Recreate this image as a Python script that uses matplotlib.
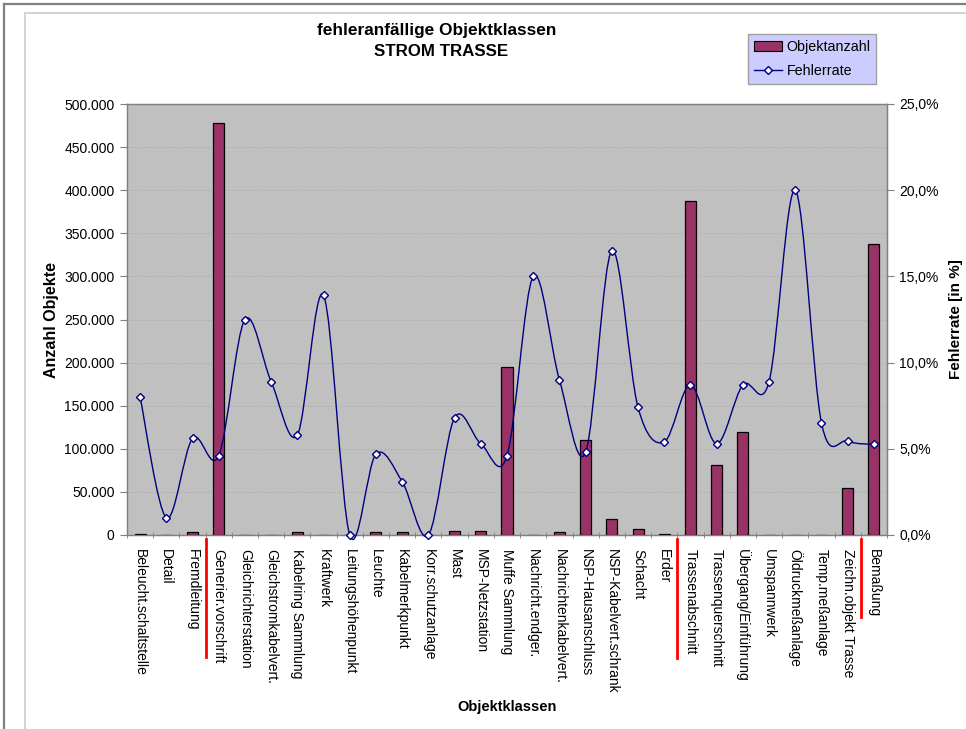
import matplotlib
matplotlib.use("Agg")
import matplotlib.pyplot as plt
from matplotlib.path import Path
from matplotlib.patches import PathPatch
from matplotlib.lines import Line2D
from matplotlib.ticker import FuncFormatter, MultipleLocator, FixedLocator
import numpy as np

plt.rcParams['font.family'] = ['Liberation Sans', 'DejaVu Sans']

categories = ["Beleucht.schaltstelle", "Detail", "Fremdleitung", "Generier.vorschrift",
              "Gleichrichterstation", "Gleichstromkabelvert.", "Kabelring Sammlung", "Kraftwerk",
              "Leitungshöhenpunkt", "Leuchte", "Kabelmerkpunkt", "Korr.schutzanlage", "Mast",
              "MSP-Netzstation", "Muffe Sammlung", "Nachricht.endger.", "Nachrichtenkabelvert.",
              "NSP-Hausanschluss", "NSP-Kabelvert.schrank", "Schacht", "Erder", "Trassenabschnitt",
              "Trassenquerschnitt", "Übergang/Einführung", "Umspannwerk", "Öldruckmeßanlage",
              "Temp.meßanlage", "Zeichn.objekt Trasse", "Bemaßung"]

objektanzahl = [1500, 0, 3000, 478000, 0, 0, 4000, 0, 0, 4000, 3000, 0, 5000, 5000, 194500,
                0, 4000, 110000, 18200, 7300, 1000, 387800, 80800, 119500, 0, 0, 0, 54900, 337600]

fehlerrate = [8.0, 1.0, 5.6, 4.6, 12.5, 8.9, 5.8, 13.9, 0.0, 4.7, 3.1, 0.0, 6.8, 5.3, 4.6,
              15.0, 9.0, 4.8, 16.5, 7.4, 5.4, 8.7, 5.3, 8.7, 8.9, 20.0, 6.5, 5.45, 5.25]

separator_positions = [2.5, 20.5, 27.5]
separator_lengths = [0.283, 0.285, 0.190]

W, H = 966, 729
fig = plt.figure(figsize=(W / 100, H / 100), dpi=100)
fig.patch.set_facecolor('white')

# frame lines
fig.add_artist(Line2D([3.5 / W, 3.5 / W], [0, 1 - 3.5 / H], transform=fig.transFigure, color='#808080', lw=1.6))
fig.add_artist(Line2D([3.5 / W, 1], [1 - 3.5 / H, 1 - 3.5 / H], transform=fig.transFigure, color='#808080', lw=1.6))
fig.add_artist(Line2D([25 / W, 25 / W], [0, 1 - 13 / H], transform=fig.transFigure, color='#d4d4d4', lw=1.5))
fig.add_artist(Line2D([25 / W, 1], [1 - 13 / H, 1 - 13 / H], transform=fig.transFigure, color='#d4d4d4', lw=1.5))

left, right, top, bottom = 127, 887, 104, 535
ax = fig.add_axes([left / W, 1 - bottom / H, (right - left) / W, (bottom - top) / H])
ax.set_facecolor('#c0c0c0')
n = len(categories)
x = np.arange(n)

ax.bar(x, objektanzahl, width=0.42, color='#993366', edgecolor='black', linewidth=0.9, zorder=3,
       label='Objektanzahl')
ax.set_xlim(-0.5, n - 0.5)
ax.set_ylim(0, 500000)
ax.yaxis.set_major_locator(MultipleLocator(50000))
ax.yaxis.set_major_formatter(FuncFormatter(lambda v, p: f"{int(v):,}".replace(",", ".")))
ax.grid(axis='y', color='#ababab', lw=0.6, linestyle=(0, (2, 2)), zorder=1)
ax.set_axisbelow(True)

ax.xaxis.set_major_locator(FixedLocator(x))
ax.set_xticklabels(categories, rotation=-90, fontsize=10, va='top', ha='center')
ax.xaxis.set_minor_locator(FixedLocator(np.arange(-0.5, n, 1.0)))
ax.tick_params(axis='x', which='major', length=0, pad=10)
ax.tick_params(axis='x', which='minor', length=5, color='#808080', direction='inout')
ax.tick_params(axis='y', which='major', length=5, color='#808080', labelsize=10, pad=4)
for s in ax.spines.values():
    s.set_color('#808080')
    s.set_linewidth(1.0)

ax.set_ylabel('Anzahl Objekte', fontsize=11.5, fontweight='bold', labelpad=4)
ax.set_xlabel('Objektklassen', fontsize=10.5, fontweight='bold', labelpad=5)

# twin axis for error rate
ax2 = ax.twinx()
ax2.set_ylim(0, 25)
ax2.yaxis.set_major_locator(MultipleLocator(5))
ax2.yaxis.set_major_formatter(FuncFormatter(lambda v, p: f"{v:.1f}%".replace(".", ",")))
ax2.tick_params(axis='y', length=5, color='#808080', labelsize=10, pad=4)
for s in ax2.spines.values():
    s.set_color('#808080')
ax2.set_ylabel('Fehlerrate [in %]', fontsize=11, fontweight='bold', labelpad=7)

# smoothed line (Catmull-Rom style Bezier like Excel)
pts = np.column_stack([x, fehlerrate]).astype(float)
ext = np.vstack([pts[0], pts, pts[-1]])
verts = [tuple(pts[0])]
codes = [Path.MOVETO]
for i in range(1, len(ext) - 2):
    p0, p1, p2, p3 = ext[i - 1], ext[i], ext[i + 1], ext[i + 2]
    c1 = p1 + (p2 - p0) / 6.0
    c2 = p2 - (p3 - p1) / 6.0
    verts += [tuple(c1), tuple(c2), tuple(p2)]
    codes += [Path.CURVE4] * 3
patch = PathPatch(Path(verts, codes), facecolor='none', edgecolor='#000080', lw=1.0, zorder=4, clip_on=False)
ax2.add_patch(patch)
ax2.plot(x, fehlerrate, linestyle='none', marker='D', markersize=4.5, markerfacecolor='white',
         markeredgecolor='#000080', markeredgewidth=1.0, zorder=5, clip_on=False)

# red separators
for xp, ln in zip(separator_positions, separator_lengths):
    ax.add_line(Line2D([xp, xp], [-0.009, -ln], transform=ax.get_xaxis_transform(), color='red',
                       lw=2, clip_on=False))

# title
fig.text(437 / W, 1 - 30 / H, 'fehleranfällige Objektklassen', ha='center', va='center',
         fontsize=12.4, fontweight='bold')
fig.text(441 / W, 1 - 52 / H, 'STROM TRASSE', ha='center', va='center', fontsize=12.2, fontweight='bold')

# legend
handles = [plt.Rectangle((0, 0), 1, 1, facecolor='#993366', edgecolor='black', lw=0.8),
           Line2D([], [], color='#000080', lw=1, marker='D', markersize=4, markerfacecolor='white',
                  markeredgecolor='#000080')]
leg = fig.legend(handles, ['Objektanzahl', 'Fehlerrate'], loc='upper left',
                 bbox_to_anchor=(748 / W, 1 - 34 / H), fontsize=10.3, frameon=True, fancybox=False,
                 handlelength=2.0, handletextpad=0.3, borderpad=0.4, labelspacing=0.72,
                 borderaxespad=0)
leg.get_frame().set_facecolor('#ccccff')
leg.get_frame().set_edgecolor('#a0a0a0')
leg.get_frame().set_alpha(1)

fig.savefig('out.png', dpi=100)
